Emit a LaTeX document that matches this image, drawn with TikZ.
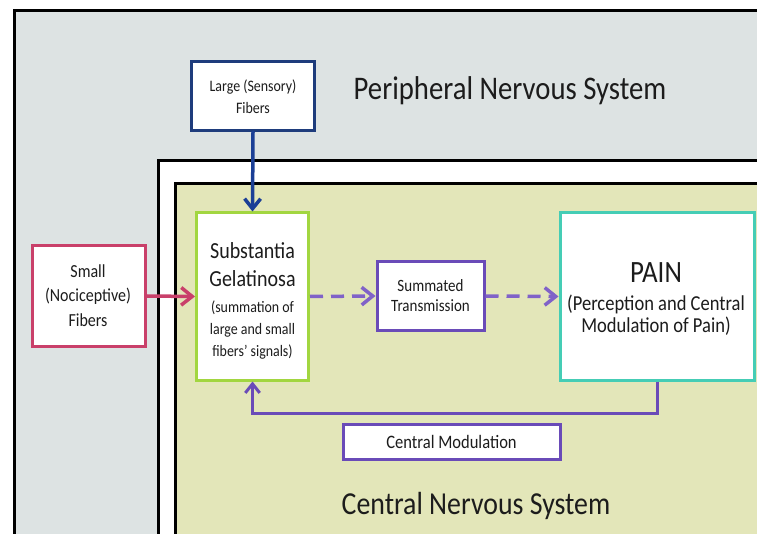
\documentclass[tikz,border=0pt]{standalone}
\usepackage{fontspec}
\setmainfont{Carlito}[FakeStretch=0.87]
\usetikzlibrary{arrows.meta,calc}

\definecolor{pnsfill}{HTML}{DDE3E3}
\definecolor{cnsfill}{HTML}{E3E6B9}
\definecolor{navy}{HTML}{1E3C7C}
\definecolor{blueline}{HTML}{1B3F96}
\definecolor{crimson}{HTML}{C9406A}
\definecolor{lime}{HTML}{A2D640}
\definecolor{violet}{HTML}{6A4BB8}
\definecolor{lilac}{HTML}{8062C8}
\definecolor{teal}{HTML}{45CDB5}
\definecolor{ink}{HTML}{1C1C1C}

\tikzset{
  box/.style={draw, fill=white, line width=3pt, rectangle, inner sep=0pt,
    align=center, text=ink},
  % text blocks are placed by the baseline of their last line
  txt/.style={anchor=base, inner sep=0pt, align=center, text=ink},
  region/.style={draw=black, line width=3pt},
  barb/.style={-{Straight Barb[length=#1,width=1.6*#1]}},
  flow/.style={line width=3.5pt, line cap=round},
}

\begin{document}
\begin{tikzpicture}[x=1pt,y=-1pt]
  \useasboundingbox (0,0) rectangle (757,534);
  \fill[white] (0,0) rectangle (757,534);
  \clip (0,0) rectangle (757,534);

  % nested regions: peripheral, separator, central
  \filldraw[region, fill=pnsfill] (14,11) rectangle (790,560);
  \filldraw[region, fill=white] (158,161) rectangle (790,560);
  \filldraw[region, fill=cnsfill] (175,184) rectangle (790,560);

  % region titles
  \node[txt, font=\fontsize{33}{38}\selectfont] (pns) at (510,100) {Peripheral Nervous System};
  \node[txt, font=\fontsize{32}{38}\selectfont] (cns) at (476,514) {Central Nervous System};

  % boxes
  \node[box, draw=navy, minimum width=123pt, minimum height=69pt] (large) at (253,96) {};
  \node[txt, font=\fontsize{16}{22}\selectfont] (largetxt) at (253,114)
        {Large (Sensory)\\Fibers};

  \node[box, draw=crimson, minimum width=113pt, minimum height=100pt] (small) at (89,296) {};
  \node[txt, font=\fontsize{18.4}{24.5}\selectfont] (smalltxt) at (88,326.5)
        {Small\\(Nociceptive)\\Fibers};

  \node[box, draw=lime, minimum width=112pt, minimum height=167pt] (sg) at (252.5,296.5) {};
  \node[txt, font=\fontsize{23}{28}\selectfont] (sgtxt) at (252.5,356)
        {Substantia\\Gelatinosa\\[-2pt]
         {\fontsize{16}{22}\selectfont (summation of}\\[-6pt]
         {\fontsize{16}{22}\selectfont large and small}\\[-6pt]
         {\fontsize{16}{22}\selectfont fibers' signals)}};

  \node[box, draw=violet, minimum width=107pt, minimum height=68pt] (st) at (430.5,296) {};
  \node[txt, font=\fontsize{17.25}{20}\selectfont] (sttxt) at (430.5,312)
        {Summated\\Transmission};

  \node[box, draw=teal, minimum width=194pt, minimum height=167pt] (pain) at (657,296.5) {};
  \node[txt, font=\fontsize{31}{27.5}\selectfont] (paintxt) at (656,332.5)
        {PAIN\\
         {\fontsize{21.3}{22}\selectfont (Perception and Central}\\[-5.5pt]
         {\fontsize{21.3}{22}\selectfont Modulation of Pain)}};

  \node[box, draw=violet, minimum width=217pt, minimum height=35pt,
        font=\fontsize{19}{22}\selectfont] (cm) at (451.5,441.5)
        {Central Modulation};

  % connectors
  \draw[flow, draw=blueline, barb=10pt] (large.south) -- (sg.north);
  \draw[flow, draw=crimson, barb=11pt] (small.east) -- (sg.west);
  \draw[flow, draw=lilac, line cap=butt, dash pattern=on 13pt off 8pt, barb=11pt]
    (sg.east) -- (st.west);
  \draw[flow, draw=lilac, line cap=butt, dash pattern=on 13pt off 8pt, barb=11pt]
    (st.east) -- (pain.west);
  \draw[line width=3pt, draw=violet, barb=9pt]
    (pain.south) -- ++(0,32) coordinate (fb) -| (sg.south);
\end{tikzpicture}
\end{document}
